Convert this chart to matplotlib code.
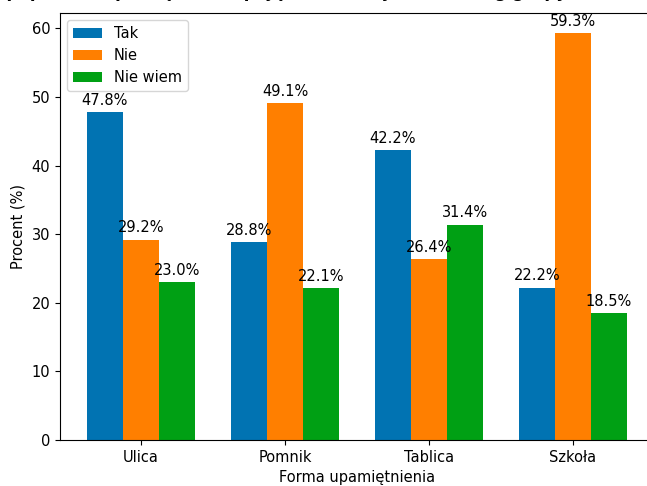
import numpy as np
import matplotlib.pyplot as plt

plt.rcParams['font.size'] = 10.5

# forms of commemoration and answers (percent)
categories = ['Ulica', 'Pomnik', 'Tablica', 'Szkoła']
tak = [47.8, 28.8, 42.2, 22.2]
nie = [29.2, 49.1, 26.4, 59.3]
nie_wiem = [23.0, 22.1, 31.4, 18.5]

series = [('Tak', tak, '#0173b2'),
          ('Nie', nie, '#ff7f00'),
          ('Nie wiem', nie_wiem, '#00a014')]

fig = plt.figure(figsize=(6.47, 4.86), dpi=100)
# axes runs a bit past the right edge, like the cropped original
ax = fig.add_axes([0.0927, 0.0947, 0.918, 0.879])
ax.spines['right'].set_visible(False)

x = np.arange(len(categories))
width = 0.25

for i, (name, vals, col) in enumerate(series):
    bars = ax.bar(x + (i - 1) * width, vals, width, label=name, color=col)
    for b, v in zip(bars, vals):
        ax.annotate(f'{v:.1f}%', (b.get_x() + b.get_width() / 2, b.get_height()),
                    xytext=(0, 3), textcoords='offset points',
                    ha='center', va='bottom')

ax.set_xticks(x)
ax.set_xticklabels(categories)
ax.set_xlabel('Forma upamiętnienia')
ax.set_ylabel('Procent (%)')
ax.legend(loc='upper left')

# title mostly cut off at the top of the image, only descenders show
fig.text(0.42, 1.0 + 3.0 / 486, 'Czy popierasz upamiętnienie pojęcia w danej formie? (wg grupy)',
         ha='center', va='baseline', fontsize=12, fontweight='bold')

plt.savefig('out.png', dpi=100)
